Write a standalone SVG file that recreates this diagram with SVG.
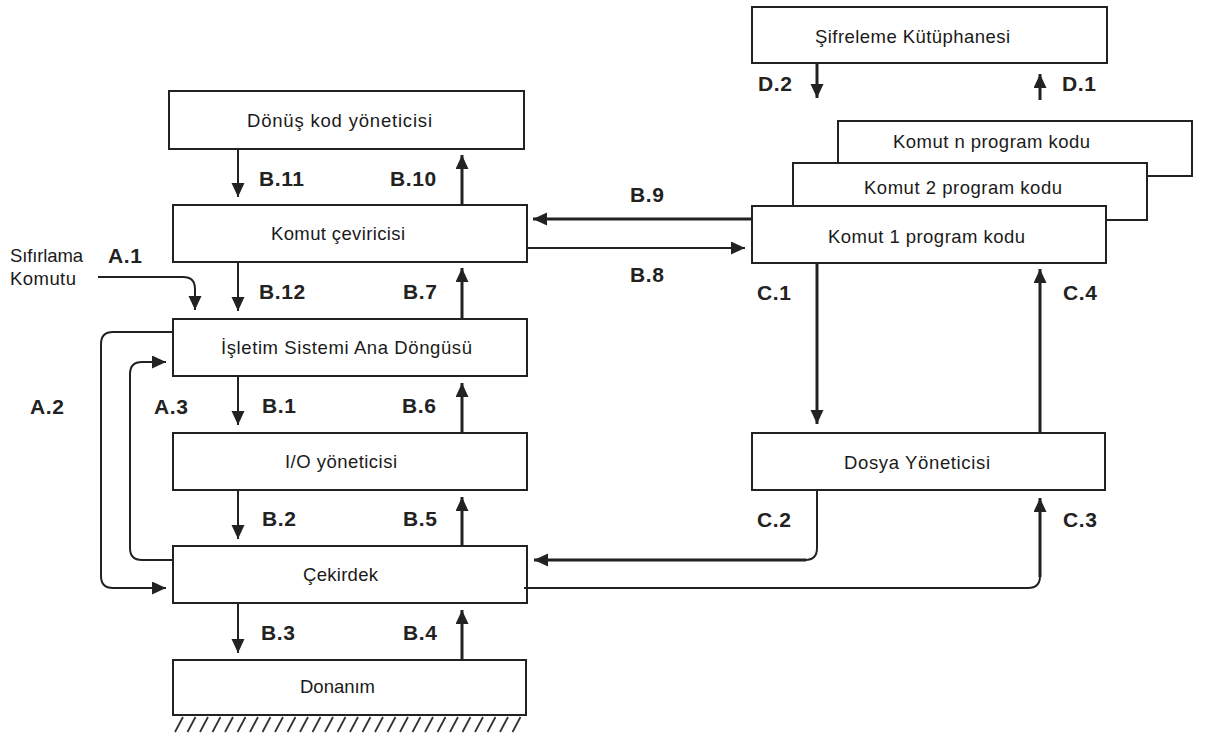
<svg xmlns="http://www.w3.org/2000/svg" width="1205" height="735" viewBox="0 0 1205 735">
  <style>
    .box { fill: #ffffff; stroke: #222222; stroke-width: 2; }
    .name { font-family: "Liberation Sans", Arial, sans-serif; font-size: 18.5px; fill: #1a1a1a; }
    .lbl { font-family: "Liberation Sans", Arial, sans-serif; font-size: 21px; font-weight: bold; letter-spacing: 0.6px; fill: #222222; }
    .thin { fill: none; stroke: #222222; stroke-width: 2; }
    .thick { fill: none; stroke: #222222; stroke-width: 3; }
    .hatch { stroke: #333333; stroke-width: 1.8; }
  </style>
  <defs>
    <marker id="arrow" markerUnits="userSpaceOnUse" markerWidth="15" markerHeight="14" refX="14" refY="6.5" orient="auto">
      <path d="M0,0 L14,6.5 L0,13 z" fill="#222222"/>
    </marker>
  </defs>

  <rect width="1205" height="735" fill="#ffffff"/>

  <!-- left stack -->
  <g id="donus-kod">
    <rect class="box" x="169" y="91" width="355" height="58"/>
    <text class="name" x="247" y="127" textLength="185" lengthAdjust="spacing">Dönüş kod yöneticisi</text>
  </g>
  <g id="komut-cevirici">
    <rect class="box" x="173" y="205" width="354" height="57"/>
    <text class="name" x="271" y="240" textLength="134" lengthAdjust="spacing">Komut çeviricisi</text>
  </g>
  <g id="isletim">
    <rect class="box" x="173" y="319" width="354" height="57"/>
    <text class="name" x="221" y="354" textLength="251" lengthAdjust="spacing">İşletim Sistemi Ana Döngüsü</text>
  </g>
  <g id="io">
    <rect class="box" x="173" y="433" width="354" height="57"/>
    <text class="name" x="285" y="468" textLength="112" lengthAdjust="spacing">I/O yöneticisi</text>
  </g>
  <g id="cekirdek">
    <rect class="box" x="173" y="546" width="354" height="57"/>
    <text class="name" x="303" y="581" textLength="75" lengthAdjust="spacing">Çekirdek</text>
  </g>
  <g id="donanim">
    <rect class="box" x="173" y="660" width="353" height="55"/>
    <text class="name" x="300" y="693" textLength="75" lengthAdjust="spacing">Donanım</text>
    <g class="hatch">
      <path d="M175,732 L183,717 M187.5,732 L195.5,717 M200,732 L208,717 M212.5,732 L220.5,717 M225,732 L233,717 M237.5,732 L245.5,717 M250,732 L258,717 M262.5,732 L270.5,717 M275,732 L283,717 M287.5,732 L295.5,717 M300,732 L308,717 M312.5,732 L320.5,717 M325,732 L333,717 M337.5,732 L345.5,717 M350,732 L358,717 M362.5,732 L370.5,717 M375,732 L383,717 M387.5,732 L395.5,717 M400,732 L408,717 M412.5,732 L420.5,717 M425,732 L433,717 M437.5,732 L445.5,717 M450,732 L458,717 M462.5,732 L470.5,717 M475,732 L483,717 M487.5,732 L495.5,717 M500,732 L508,717 M512.5,732 L520.5,717"/>
    </g>
  </g>

  <!-- right side -->
  <g id="sifreleme">
    <rect class="box" x="752" y="7" width="355" height="56"/>
    <text class="name" x="815" y="43" textLength="195" lengthAdjust="spacing">Şifreleme Kütüphanesi</text>
  </g>
  <g id="komut-n">
    <rect class="box" x="838" y="121" width="354" height="55"/>
    <text class="name" x="893" y="148" textLength="197" lengthAdjust="spacing">Komut n program kodu</text>
  </g>
  <g id="komut-2">
    <rect class="box" x="793" y="163" width="354" height="57"/>
    <text class="name" x="864" y="194" textLength="198" lengthAdjust="spacing">Komut 2 program kodu</text>
  </g>
  <g id="komut-1">
    <rect class="box" x="752" y="206" width="354" height="57"/>
    <text class="name" x="828" y="243" textLength="197" lengthAdjust="spacing">Komut 1 program kodu</text>
  </g>
  <g id="dosya">
    <rect class="box" x="752" y="433" width="353" height="57"/>
    <text class="name" x="844" y="469" textLength="146" lengthAdjust="spacing">Dosya Yöneticisi</text>
  </g>

  <!-- reset input -->
  <g id="sifirlama">
    <text class="name" x="10" y="262" textLength="73" lengthAdjust="spacing">Sıfırlama</text>
    <text class="name" x="10" y="285" textLength="66" lengthAdjust="spacing">Komutu</text>
  </g>

  <!-- connectors -->
  <g id="connectors">
    <!-- vertical stack, down (thin) and up (thick) -->
    <path class="thin" d="M238,149 V197" marker-end="url(#arrow)"/>
    <path class="thick" d="M462,205 V155" marker-end="url(#arrow)"/>
    <path class="thin" d="M238,262 V311" marker-end="url(#arrow)"/>
    <path class="thick" d="M462,319 V268" marker-end="url(#arrow)"/>
    <path class="thin" d="M238,376 V425" marker-end="url(#arrow)"/>
    <path class="thick" d="M462,433 V383" marker-end="url(#arrow)"/>
    <path class="thin" d="M238,490 V539" marker-end="url(#arrow)"/>
    <path class="thick" d="M462,546 V497" marker-end="url(#arrow)"/>
    <path class="thin" d="M238,603 V653" marker-end="url(#arrow)"/>
    <path class="thick" d="M462,660 V610" marker-end="url(#arrow)"/>

    <!-- reset and loops -->
    <path class="thin" d="M98,277 H183 Q195,277 195,289 V310" marker-end="url(#arrow)"/>
    <path class="thin" d="M173,332 H113 Q101,332 101,344 V576 Q101,588 113,588 H166" marker-end="url(#arrow)"/>
    <path class="thin" d="M173,560 H142 Q130,560 130,548 V374 Q130,362 142,362 H166" marker-end="url(#arrow)"/>

    <!-- command translator and program code -->
    <path class="thick" d="M752,219 H533" marker-end="url(#arrow)"/>
    <path class="thin" d="M527,248 H745" marker-end="url(#arrow)"/>

    <!-- crypto library -->
    <path class="thick" d="M817,63 V98" marker-end="url(#arrow)"/>
    <path class="thick" d="M1040,100 V74" marker-end="url(#arrow)"/>

    <!-- file manager -->
    <path class="thick" d="M817,263 V424" marker-end="url(#arrow)"/>
    <path class="thick" d="M1040,433 V269" marker-end="url(#arrow)"/>
    <path class="thin" d="M817,490 V548 Q817,560 805,560"/>
    <path class="thick" d="M806,560 H534" marker-end="url(#arrow)"/>
    <path class="thin" d="M524,588 H1028 Q1040,588 1040,576"/>
    <path class="thick" d="M1040,577 V498" marker-end="url(#arrow)"/>
  </g>

  <!-- labels -->
  <g id="labels">
    <text class="lbl" x="259" y="186">B.11</text>
    <text class="lbl" x="390" y="186">B.10</text>
    <text class="lbl" x="259" y="299">B.12</text>
    <text class="lbl" x="403" y="299">B.7</text>
    <text class="lbl" x="262" y="413">B.1</text>
    <text class="lbl" x="402" y="413">B.6</text>
    <text class="lbl" x="262" y="526">B.2</text>
    <text class="lbl" x="403" y="526">B.5</text>
    <text class="lbl" x="261" y="640">B.3</text>
    <text class="lbl" x="403" y="640">B.4</text>
    <text class="lbl" x="108" y="263">A.1</text>
    <text class="lbl" x="30" y="414">A.2</text>
    <text class="lbl" x="154" y="414">A.3</text>
    <text class="lbl" x="630" y="202">B.9</text>
    <text class="lbl" x="630" y="282">B.8</text>
    <text class="lbl" x="757" y="300">C.1</text>
    <text class="lbl" x="1063" y="300">C.4</text>
    <text class="lbl" x="757" y="527">C.2</text>
    <text class="lbl" x="1063" y="527">C.3</text>
    <text class="lbl" x="758" y="91">D.2</text>
    <text class="lbl" x="1062" y="91">D.1</text>
  </g>
</svg>
